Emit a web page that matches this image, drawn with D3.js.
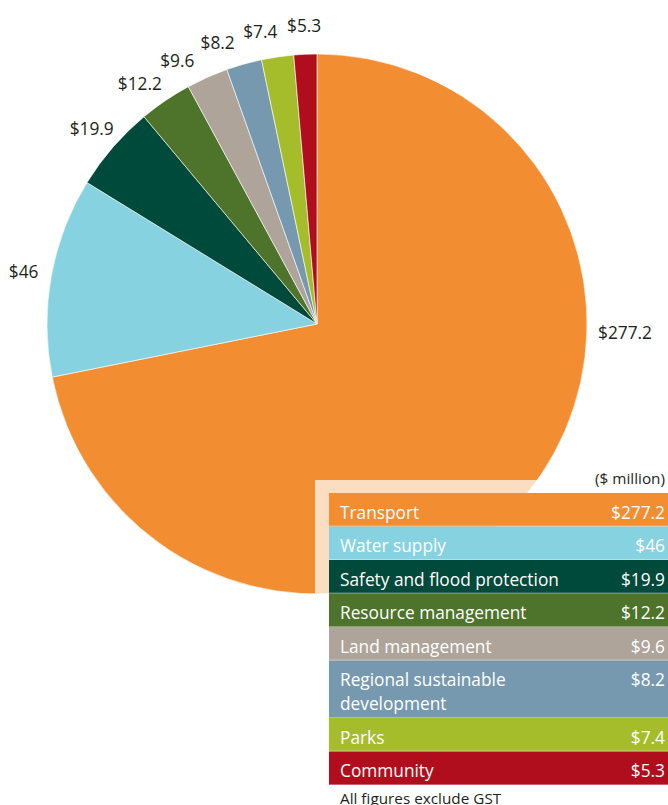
<!DOCTYPE html>
<html lang="en">
<head>
  <meta charset="UTF-8">
  <title>Capital expenditure by activity</title>
  <script src="https://cdn.jsdelivr.net/npm/d3@7"></script>
  <style>
    body { margin: 0; background: #fff; }
    svg { display: block; font-family: "Open Sans", sans-serif; }
  </style>
</head>
<body>
  <svg id="chart"></svg>
  <script>
    const categories = ["Transport", "Water supply", "Safety and flood protection", "Resource management",
                        "Land management", "Regional sustainable\ndevelopment", "Parks", "Community"];
    const values = [277.2, 46, 19.9, 12.2, 9.6, 8.2, 7.4, 5.3];
    const colors = ["#F28D32", "#87D2E0", "#004A3B", "#4E732A", "#AEA49A", "#7699AF", "#A5BD2B", "#B10E1D"];
    const unitLabel = "($ million)";
    const footnote = "All figures exclude GST";

    const width = 668, height = 805;
    const cx = 317, cy = 324, radius = 270;
    const labelFont = 17.3;

    const data = categories.map((c, i) => ({ name: c, value: values[i], color: colors[i] }));

    const svg = d3.select("#chart")
                  .attr("width", width)
                  .attr("height", height);

    const pie = d3.pie().sort(null).value(d => d.value);
    const arcs = pie(data);

    const arc = d3.arc().innerRadius(0).outerRadius(radius);

    const g = svg.append("g").attr("transform", `translate(${cx},${cy})`);

    g.selectAll("path")
     .data(arcs)
     .enter()
     .append("path")
     .attr("d", arc)
     .attr("fill", d => d.data.color)
     .attr("stroke", "#fff")
     .attr("stroke-width", 0.6);

    // label angles: mid-angle, then push the crowded small ones apart (walking back from the top)
    const minGap = 8.5 * Math.PI / 180;
    const labelAngles = arcs.map(d => (d.startAngle + d.endAngle) / 2);
    for (let i = labelAngles.length - 2; i >= 1; i--) {
      if (labelAngles[i + 1] - labelAngles[i] < minGap) labelAngles[i] = labelAngles[i + 1] - minGap;
    }
    const labelR = 298;

    g.selectAll("text.val")
     .data(arcs)
     .enter()
     .append("text")
     .attr("class", "val")
     .attr("transform", (d, i) => {
        // the big slice gets its label out to the right
        if (i === 0) return `translate(${radius + 11},${9})`;
        const a = labelAngles[i];
        return `translate(${labelR * Math.sin(a)},${-labelR * Math.cos(a)})`;
     })
     .attr("text-anchor", (d, i) => i === 0 ? "start" : "middle")
     .attr("dy", "0.35em")
     .attr("font-size", labelFont)
     .attr("fill", "#231F20")
     .text(d => "$" + d.data.value);

    // faded panel over the pie behind the table
    svg.append("rect")
       .attr("x", 315).attr("y", 480)
       .attr("width", width - 315).attr("height", cy + radius - 480 + 1)
       .attr("fill", "#fff")
       .attr("opacity", 0.7);

    const tableX = 329, tableTop = 493, rowH = 33.5, lineH = 24;

    svg.append("text")
       .attr("x", 665).attr("y", 484)
       .attr("text-anchor", "end")
       .attr("font-size", 15.3)
       .attr("fill", "#231F20")
       .text(unitLabel);

    let y = tableTop;
    const rows = data.map(d => {
      const lines = d.name.split("\n");
      const h = rowH + (lines.length - 1) * lineH;
      const r = { ...d, lines, y, h };
      y += h;
      return r;
    });

    const row = svg.selectAll("g.row")
                   .data(rows)
                   .enter()
                   .append("g")
                   .attr("class", "row")
                   .attr("transform", d => `translate(${tableX},${d.y})`);

    row.append("rect")
       .attr("width", width - tableX)
       .attr("height", d => d.h)
       .attr("fill", d => d.color);

    row.append("line")
       .attr("x1", 0).attr("x2", width - tableX)
       .attr("y1", d => d.h - 0.5).attr("y2", d => d.h - 0.5)
       .attr("stroke", "#fff")
       .attr("stroke-opacity", 0.35);

    row.append("text")
       .attr("font-size", labelFont)
       .attr("fill", "#fff")
       .selectAll("tspan")
       .data(d => d.lines)
       .enter()
       .append("tspan")
       .attr("x", 11)
       .attr("y", (l, i) => 25.5 + i * lineH)
       .text(l => l);

    row.append("text")
       .attr("x", 336)
       .attr("y", 25.5)
       .attr("text-anchor", "end")
       .attr("font-size", labelFont)
       .attr("fill", "#fff")
       .text(d => "$" + d.value);

    svg.append("text")
       .attr("x", 340).attr("y", 804)
       .attr("font-size", 15.3)
       .attr("fill", "#231F20")
       .text(footnote);
  </script>
</body>
</html>
